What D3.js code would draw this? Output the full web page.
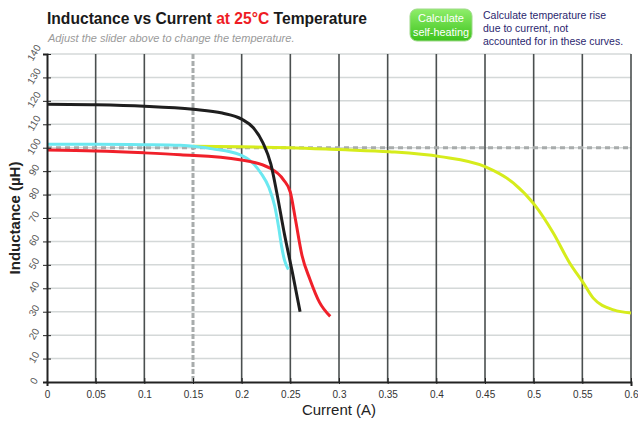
<!DOCTYPE html>
<html>
<head>
<meta charset="utf-8">
<script src="https://cdn.jsdelivr.net/npm/d3@7"></script>
<style>
body { margin: 0; background: #fff; font-family: Arial, "Liberation Sans", sans-serif; }
</style>
</head>
<body>
<svg></svg>
<script>
// curve data: [current A, inductance uH]
var blackCurve = [[0, 118.5], [0.05, 118.3], [0.1, 117.7], [0.15, 116.4], [0.18, 114.8], [0.2, 112.2], [0.212, 108.5], [0.222, 102], [0.23, 93], [0.236, 81], [0.244, 63], [0.252, 47], [0.26, 30]];
var cyanCurve = [[0, 101.5], [0.05, 101.5], [0.1, 101.3], [0.137, 101], [0.17, 99.5], [0.198, 97], [0.21, 94], [0.22, 89], [0.228, 83], [0.234, 75], [0.238, 66], [0.241, 58], [0.244, 52], [0.248, 48]];
var redCurve = [[0, 99], [0.05, 98.6], [0.1, 97.8], [0.137, 97], [0.198, 94.9], [0.228, 91.5], [0.243, 86.3], [0.25, 81], [0.255, 70], [0.262, 54], [0.27, 44], [0.28, 34], [0.291, 28]];
var yellowCurve = [[0.15, 100.6], [0.2, 100.4], [0.25, 100], [0.3, 99.2], [0.352, 98.3], [0.404, 96.2], [0.45, 91.9], [0.479, 85], [0.501, 75.6], [0.52, 63.7], [0.537, 50.8], [0.551, 42.3], [0.561, 35.9], [0.582, 30.8], [0.6, 29.5]];

var xTicks = [0, 0.05, 0.1, 0.15, 0.2, 0.25, 0.3, 0.35, 0.4, 0.45, 0.5, 0.55, 0.6];
var yTicks = [0, 10, 20, 30, 40, 50, 60, 70, 80, 90, 100, 110, 120, 130, 140];
var sliderCurrent = 0.15;
var refInductance = 100;

var svgWidth = 638, svgHeight = 425;
var plotLeft = 47, plotRight = 631, plotTop = 54, plotBottom = 382;

var svg = d3.select("svg")
    .attr("width", svgWidth)
    .attr("height", svgHeight);

var xScale = d3.scaleLinear().domain([0, 0.6]).range([plotLeft, plotRight]);
var yScale = d3.scaleLinear().domain([0, 140]).range([plotBottom, plotTop]);

// horizontal grid
svg.append("g").selectAll("line")
    .data(yTicks.slice(1))
    .enter().append("line")
    .attr("x1", plotLeft).attr("x2", plotRight)
    .attr("y1", d => yScale(d)).attr("y2", d => yScale(d))
    .attr("stroke", "#d4d8d8")
    .attr("stroke-width", 1.5);

// vertical grid
svg.append("g").selectAll("line")
    .data(xTicks.slice(1).filter(d => d !== sliderCurrent))
    .enter().append("line")
    .attr("x1", d => xScale(d)).attr("x2", d => xScale(d))
    .attr("y1", plotTop).attr("y2", plotBottom)
    .attr("stroke", "#4a4f4f")
    .attr("stroke-width", 1.6);

// dashed reference lines
svg.append("line")
    .attr("x1", plotLeft).attr("x2", plotRight)
    .attr("y1", yScale(refInductance)).attr("y2", yScale(refInductance))
    .attr("stroke", "#a8acac")
    .attr("stroke-width", 3)
    .attr("stroke-dasharray", "5,4");
svg.append("line")
    .attr("x1", xScale(sliderCurrent)).attr("x2", xScale(sliderCurrent))
    .attr("y1", plotTop).attr("y2", plotBottom)
    .attr("stroke", "#a8acac")
    .attr("stroke-width", 3)
    .attr("stroke-dasharray", "5,2");

var line = d3.line()
    .x(d => xScale(d[0]))
    .y(d => yScale(d[1]))
    .curve(d3.curveMonotoneX);

var curves = [
    {data: yellowCurve, color: "#d6ec1c"},
    {data: cyanCurve, color: "#6be8f0"},
    {data: redCurve, color: "#f0202a"},
    {data: blackCurve, color: "#1e1e1e"}
];
svg.append("g").selectAll("path")
    .data(curves)
    .enter().append("path")
    .attr("d", d => line(d.data))
    .attr("fill", "none")
    .attr("stroke", d => d.color)
    .attr("stroke-width", 3);

// axes
var x_axis = d3.axisBottom(xScale).tickValues(xTicks).tickSize(4).tickFormat(d3.format("~g"));
var y_axis = d3.axisLeft(yScale).tickValues(yTicks).tickSize(4);

var gx = svg.append("g")
    .attr("transform", "translate(0," + plotBottom + ")")
    .call(x_axis);
gx.select(".domain").attr("stroke", "#222").attr("stroke-width", 2);
gx.selectAll(".tick line").attr("stroke", "#222").attr("y1", -4).attr("y2", 2);
gx.selectAll(".tick text")
    .attr("fill", "#333")
    .attr("font-size", 10)
    .attr("font-family", "Arial, Liberation Sans, sans-serif")
    .attr("dy", "0.9em");

var gy = svg.append("g")
    .attr("transform", "translate(" + plotLeft + ",0)")
    .call(y_axis);
gy.select(".domain").attr("stroke", "#222").attr("stroke-width", 2);
gy.selectAll(".tick line").attr("stroke", "#222").attr("x1", -4).attr("x2", 4);
gy.selectAll(".tick text")
    .attr("fill", "#555")
    .attr("font-size", 10)
    .attr("font-family", "Arial, Liberation Sans, sans-serif")
    .attr("text-anchor", "middle")
    .attr("x", 0).attr("dy", 0)
    .attr("transform", "translate(-10,0) rotate(-60)");

// axis titles
svg.append("text")
    .attr("x", 339)
    .attr("y", 415)
    .attr("text-anchor", "middle")
    .attr("font-size", 15)
    .attr("fill", "#222")
    .text("Current (A)");
svg.append("text")
    .attr("transform", "translate(20," + ((plotTop + plotBottom) / 2) + ") rotate(-90)")
    .attr("text-anchor", "middle")
    .attr("font-size", 15)
    .attr("font-weight", "bold")
    .attr("fill", "#222")
    .text("Inductance (µH)");

// title
var title = svg.append("text")
    .attr("x", 47)
    .attr("y", 24)
    .attr("font-size", 16)
    .attr("font-weight", "bold")
    .attr("fill", "#1a1a1a")
    .attr("textLength", 320)
    .attr("lengthAdjust", "spacingAndGlyphs");
title.append("tspan").text("Inductance vs Current ");
title.append("tspan").attr("fill", "#ee1c24").text("at 25°C");
title.append("tspan").text(" Temperature");

svg.append("text")
    .attr("x", 48)
    .attr("y", 42)
    .attr("font-size", 11)
    .attr("font-style", "italic")
    .attr("fill", "#9a9a9a")
    .text("Adjust the slider above to change the temperature.");

// button
var grad = svg.append("defs").append("linearGradient")
    .attr("id", "btn").attr("x1", 0).attr("x2", 0).attr("y1", 0).attr("y2", 1);
grad.append("stop").attr("offset", "0%").attr("stop-color", "#8fee6a");
grad.append("stop").attr("offset", "100%").attr("stop-color", "#3cc21c");
svg.append("rect")
    .attr("x", 410).attr("y", 9)
    .attr("width", 62).attr("height", 32)
    .attr("rx", 7)
    .attr("fill", "url(#btn)")
    .attr("stroke", "#9fd98a");
svg.append("text")
    .attr("x", 441).attr("y", 22)
    .attr("text-anchor", "middle")
    .attr("font-size", 11)
    .attr("fill", "#fff")
    .text("Calculate");
svg.append("text")
    .attr("x", 441).attr("y", 36)
    .attr("text-anchor", "middle")
    .attr("font-size", 11)
    .attr("fill", "#fff")
    .attr("textLength", 56)
    .attr("lengthAdjust", "spacingAndGlyphs")
    .text("self-heating");

var note = ["Calculate temperature rise", "due to current, not", "accounted for in these curves."];
svg.append("g").selectAll("text")
    .data(note)
    .enter().append("text")
    .attr("x", 483)
    .attr("y", (d, i) => 19 + i * 13)
    .attr("font-size", 10.5)
    .attr("fill", "#2b1f6e")
    .text(d => d);
</script>
</body>
</html>
